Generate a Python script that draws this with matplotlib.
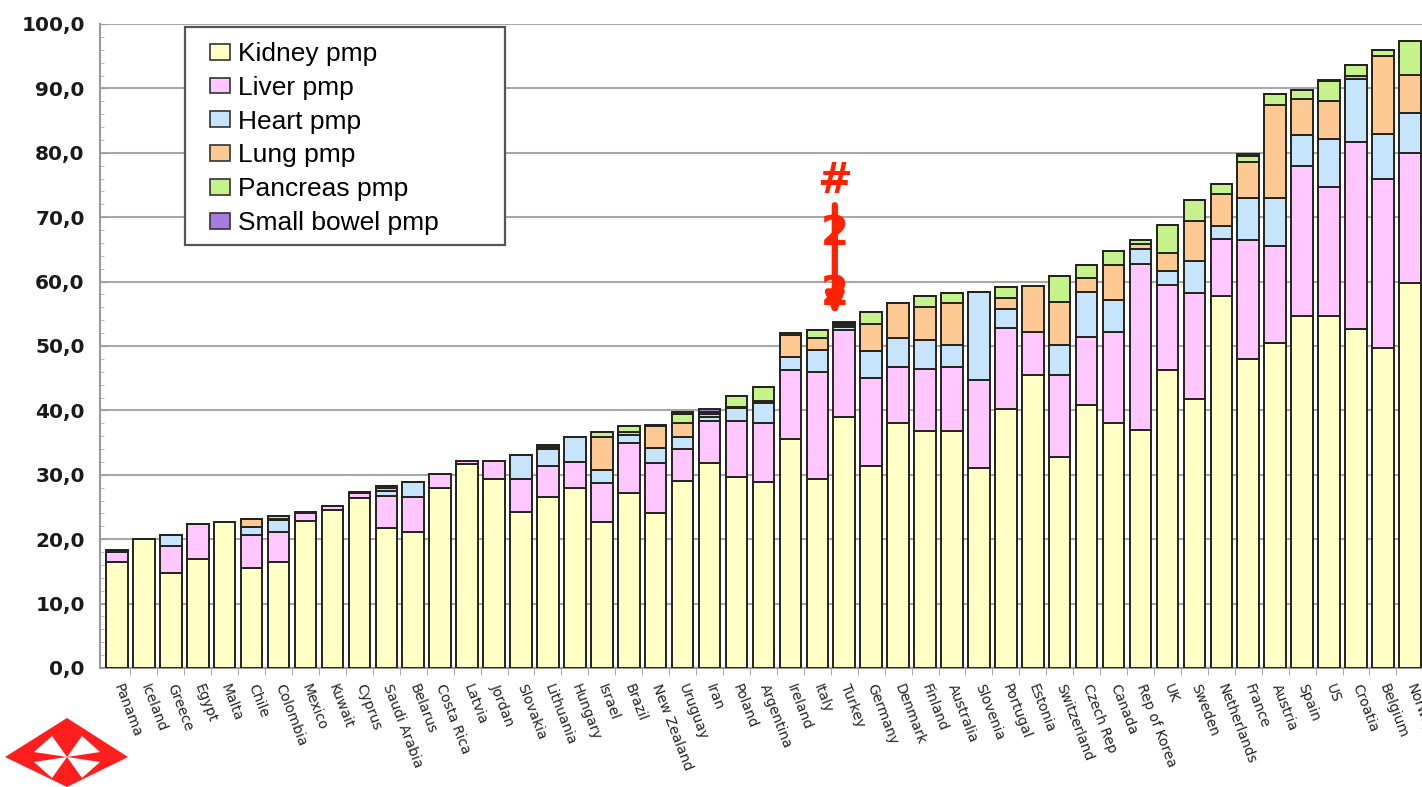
import numpy as np
import matplotlib
matplotlib.use("Agg")
import matplotlib.pyplot as plt
from matplotlib.patches import Polygon, Rectangle, Patch
from matplotlib.ticker import MultipleLocator, FixedLocator, FuncFormatter

# transplants per million population, by organ
countries = ["Panama", "Iceland", "Greece", "Egypt", "Malta", "Chile", "Colombia",
             "Mexico", "Kuwait", "Cyprus", "Saudi Arabia", "Belarus", "Costa Rica",
             "Latvia", "Jordan", "Slovakia", "Lithuania", "Hungary", "Israel", "Brazil",
             "New Zealand", "Uruguay", "Iran", "Poland", "Argentina", "Ireland", "Italy",
             "Turkey", "Germany", "Denmark", "Finland", "Australia", "Slovenia",
             "Portugal", "Estonia", "Switzerland", "Czech Rep", "Canada", "Rep of Korea",
             "UK", "Sweden", "Netherlands", "France", "Austria", "Spain", "US",
             "Croatia", "Belgium", "Norway"]

kidney = [16.5, 20.0, 14.8, 16.9, 22.7, 15.6, 16.5, 22.8, 24.6, 26.4, 21.8, 21.1, 28.0,
          31.6, 29.3, 24.3, 26.6, 27.9, 22.7, 27.2, 24.0, 29.0, 31.9, 29.7, 28.9, 35.5,
          29.3, 39.0, 31.4, 38.1, 36.8, 36.8, 31.0, 40.2, 45.5, 32.7, 40.8, 38.1, 37.0,
          46.2, 41.8, 57.8, 48.0, 50.5, 54.7, 54.7, 52.6, 49.7, 59.8]
liver = [1.5, 0.0, 4.1, 5.4, 0.0, 5.0, 4.6, 1.2, 0.6, 0.8, 4.9, 5.5, 2.2,
         0.6, 2.9, 5.0, 4.7, 4.1, 6.0, 7.8, 7.9, 5.0, 6.5, 8.7, 9.2, 10.8,
         16.7, 13.5, 13.7, 8.7, 9.6, 10.0, 13.7, 12.6, 6.7, 12.8, 10.6, 14.1, 25.8,
         13.2, 16.4, 8.8, 18.5, 15.0, 23.2, 20.0, 29.1, 26.3, 20.2]
heart = [0.3, 0.0, 1.7, 0.0, 0.0, 1.3, 1.9, 0.2, 0.0, 0.2, 0.8, 2.3, 0.0,
         0.0, 0.0, 3.8, 2.7, 3.9, 2.0, 1.2, 2.2, 1.9, 0.6, 1.9, 3.0, 2.0,
         3.4, 0.5, 4.1, 4.4, 4.5, 3.4, 13.7, 3.0, 0.0, 4.7, 7.0, 4.9, 2.3,
         2.2, 5.0, 2.0, 6.5, 7.5, 4.9, 7.4, 9.8, 6.9, 6.2]
lung = [0.0, 0.0, 0.0, 0.0, 0.0, 1.3, 0.2, 0.0, 0.0, 0.0, 0.4, 0.0, 0.0,
        0.0, 0.0, 0.0, 0.3, 0.0, 5.2, 0.5, 3.4, 2.1, 0.4, 0.3, 0.3, 3.4,
        1.9, 0.3, 4.2, 5.5, 5.2, 6.5, 0.0, 1.7, 7.1, 6.7, 2.1, 5.5, 0.8,
        2.8, 6.2, 5.0, 5.5, 14.5, 5.5, 5.9, 0.5, 12.1, 5.9]
pancreas = [0.0, 0.0, 0.0, 0.0, 0.0, 0.0, 0.4, 0.0, 0.0, 0.0, 0.3, 0.0, 0.0,
            0.0, 0.0, 0.0, 0.4, 0.0, 0.8, 0.8, 0.2, 1.5, 0.3, 1.7, 2.2, 0.3,
            1.2, 0.3, 1.9, 0.0, 1.6, 1.6, 0.0, 1.7, 0.0, 4.0, 2.1, 2.2, 0.5,
            4.4, 3.2, 1.6, 1.0, 1.7, 1.5, 3.1, 1.7, 1.0, 5.3]
small_bowel = [0.0, 0.0, 0.0, 0.0, 0.0, 0.0, 0.0, 0.0, 0.0, 0.0, 0.0, 0.0, 0.0,
               0.0, 0.0, 0.0, 0.0, 0.0, 0.0, 0.0, 0.0, 0.3, 0.5, 0.0, 0.0, 0.0,
               0.0, 0.2, 0.0, 0.0, 0.0, 0.0, 0.0, 0.0, 0.0, 0.0, 0.0, 0.0, 0.0,
               0.0, 0.0, 0.0, 0.3, 0.0, 0.0, 0.2, 0.0, 0.0, 0.0]

organs = ["Kidney pmp", "Liver pmp", "Heart pmp", "Lung pmp", "Pancreas pmp", "Small bowel pmp"]
colors = ["#FFFFC6", "#FFC6FF", "#C6E4FB", "#FFC994", "#C6F28C", "#A77BE0"]

W, H = 1422, 787


def px(x, y):
    # pixel position (from top-left) -> figure fraction
    return x / W, 1 - y / H


fig = plt.figure(figsize=(W / 100, H / 100), dpi=100)
ax = fig.add_axes([100 / W, 1 - 668 / H, 1 - 100 / W, (668 - 24) / H])

x = np.arange(len(countries))
series = [kidney, liver, heart, lung, pancreas, small_bowel]
bottom = np.zeros(len(countries))
for vals, col in zip(series, colors):
    vals = np.array(vals)
    ax.bar(x, vals, 0.8, bottom=bottom, color=col, edgecolor="#24241c",
           linewidth=1.4, zorder=3)
    bottom += vals

ax.set_xlim(-0.63, len(countries) - 0.55)
ax.set_ylim(0, 100)

# grid and axes
ax.yaxis.set_major_locator(MultipleLocator(10))
ax.yaxis.set_minor_locator(MultipleLocator(2))
ax.yaxis.set_major_formatter(FuncFormatter(lambda v, p: f"{v:.1f}".replace(".", ",")))
ax.grid(axis="y", color="#A8A8A8", linewidth=1.5, zorder=0)
for side in ["top", "right"]:
    ax.spines[side].set_visible(False)
for side in ["left", "bottom"]:
    ax.spines[side].set_color("#9A9A9A")
    ax.spines[side].set_linewidth(1.5)
ax.tick_params(axis="y", which="major", direction="in", length=4, color="#9A9A9A",
               labelsize=14.5, pad=11)
ax.tick_params(axis="y", which="minor", direction="in", length=3, color="#B0B0B0")
for lbl in ax.get_yticklabels():
    lbl.set_fontweight("bold")
    lbl.set_color("#1a1a1a")

ax.set_xticks(x)
ax.set_xticklabels(countries, rotation=-69, ha="left", va="center",
                   rotation_mode="anchor", fontsize=10, color="#222222")
ax.tick_params(axis="x", which="major", length=0, pad=12)
ax.xaxis.set_minor_locator(FixedLocator(x[:-1] + 0.5))
ax.tick_params(axis="x", which="minor", length=5, color="#9A9A9A", direction="out")

# legend with a square frame
fig.patches.append(Rectangle(px(185, 245), 320 / W, 218 / H, transform=fig.transFigure,
                             facecolor="white", edgecolor="#555555", linewidth=1.6,
                             zorder=5))
handles = [Patch(facecolor=c, edgecolor="#333333", linewidth=1.2) for c in colors]
leg = fig.legend(handles, organs, loc="upper left", bbox_to_anchor=px(189, 21),
                 frameon=False, prop={"family": "Liberation Sans", "size": 19},
                 handlelength=0.75, handleheight=0.55, handletextpad=0.3,
                 labelspacing=0.37, borderpad=0.3)
leg.set_zorder(6)

# red marker over Turkey
ti = countries.index("Turkey")
top = bottom[ti]
red = "#FF2200"
ax.annotate("", xy=(ti - 0.35, top + 0.4), xytext=(ti - 0.35, top + 18.5),
            arrowprops=dict(arrowstyle="-|>,head_length=1.2,head_width=0.5",
                            color=red, lw=4.5), zorder=8, annotation_clip=False)
ax.text(ti - 0.35, top + 21.8, "#", color=red, fontsize=30, fontweight="bold",
        ha="center", va="center", zorder=9)
for dy in (13.6, 4.3):
    ax.text(ti - 0.35, top + dy, "2", color=red, fontsize=29, fontweight="bold",
            ha="center", va="center", zorder=9)

# logo in the lower left corner
diamond = [(5, 757), (67, 718), (128, 757), (67, 787)]
fig.patches.append(Polygon([px(*p) for p in diamond], closed=True,
                           transform=fig.transFigure, facecolor="#FF1E1E",
                           edgecolor="none"))
c = (67, 757)
blades = [[c, (34, 752), (52, 736)], [c, (82, 736), (100, 752)],
          [c, (34, 762), (52, 778)], [c, (82, 778), (100, 762)]]
for b in blades:
    fig.patches.append(Polygon([px(*p) for p in b], closed=True,
                               transform=fig.transFigure, facecolor="white",
                               edgecolor="none"))

fig.savefig("out.png", dpi=100, facecolor="white")
